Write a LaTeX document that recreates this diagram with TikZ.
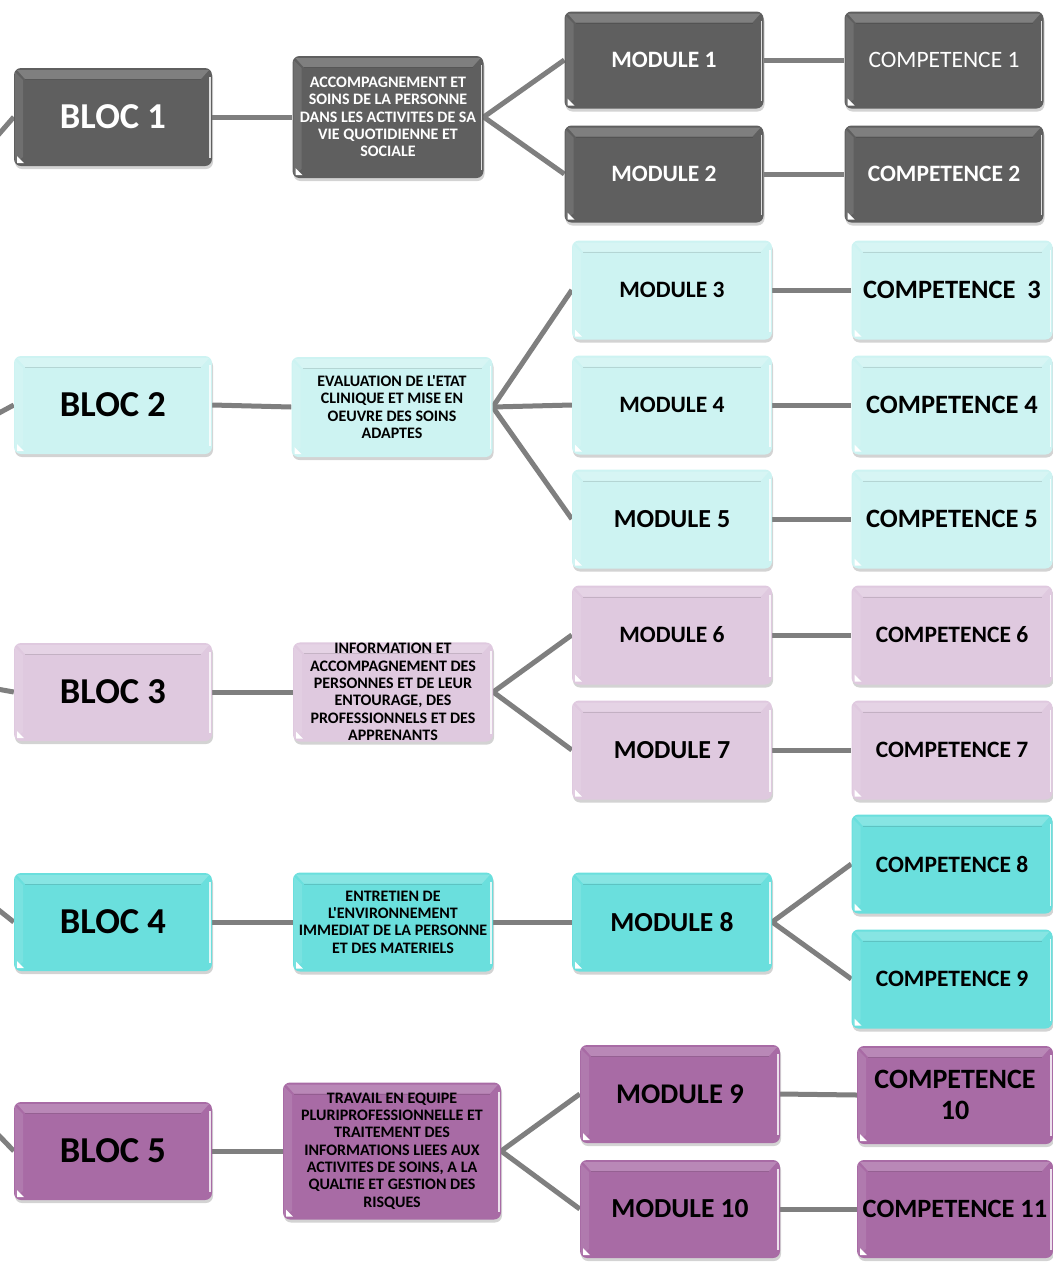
\documentclass[tikz,border=0pt]{standalone}
\usepackage{fontspec}
\setmainfont{Carlito}[Ligatures=TeXOff]
\usetikzlibrary{shadows,backgrounds}
\definecolor{cA}{HTML}{5F5F5F}
\definecolor{cB}{HTML}{CDF3F2}
\definecolor{cC}{HTML}{DFC9DF}
\definecolor{cD}{HTML}{6ADFDD}
\definecolor{cE}{HTML}{A86BA5}
\definecolor{linkc}{HTML}{7F7F7F}
\newcommand{\fs}[1]{\fontsize{#1}{#1}\selectfont}
\tikzset{
  box/.style={rounded corners=7pt, minimum width=198pt, minimum height=98pt,
    inner sep=1pt, align=center, font=\bfseries,
    drop shadow={shadow xshift=1pt, shadow yshift=-3pt, opacity=.35},
    path picture={
      \fill[white,opacity=.2,sharp corners] ([xshift=3pt,yshift=-2pt]path picture bounding box.north west) -- ([xshift=-3pt,yshift=-2pt]path picture bounding box.north east) -- ([xshift=-11pt,yshift=-11pt]path picture bounding box.north east) -- ([xshift=11pt,yshift=-11pt]path picture bounding box.north west) -- cycle;
      \draw[black,opacity=.12,line width=1pt,sharp corners] ([xshift=11pt,yshift=-11.5pt]path picture bounding box.north west) -- ([xshift=-11pt,yshift=-11.5pt]path picture bounding box.north east);
      \fill[white,opacity=.1,sharp corners] ([xshift=1pt,yshift=-4pt]path picture bounding box.north west) -- ([xshift=9pt,yshift=-12pt]path picture bounding box.north west) -- ([xshift=9pt,yshift=9pt]path picture bounding box.south west) -- ([xshift=1pt,yshift=3pt]path picture bounding box.south west) -- cycle;
      \draw[white,opacity=.8,line width=1.6pt,sharp corners] ([xshift=-2pt,yshift=-9pt]path picture bounding box.north east) -- ([xshift=-2pt,yshift=8pt]path picture bounding box.south east);
      \fill[white,sharp corners] ([xshift=3pt,yshift=3pt]path picture bounding box.south west) -- ++(7pt,0) -- ++(-7pt,7pt) -- cycle;
    }},
  bA/.style={box, fill=cA, text=white},
  bB/.style={box, fill=cB, text=black},
  bC/.style={box, fill=cC, text=black},
  bD/.style={box, fill=cD, text=black},
  bE/.style={box, fill=cE, text=black},
  link/.style={draw=linkc, line width=5pt},
  mid/.style={font=\bfseries\fontsize{16}{17.3}\selectfont}
}
\begin{document}
\begin{tikzpicture}[x=1pt,y=-1pt]
\useasboundingbox (0,0) rectangle (1053,1262);
% row 1
\node[bA,font=\bfseries\fs{36.5}] (bl1) at (113,117) {BLOC 1};
\node[bA,mid,minimum width=191pt,minimum height=122pt] (m1) at (388,117) {ACCOMPAGNEMENT ET\\SOINS DE LA PERSONNE\\DANS LES ACTIVITES DE SA\\VIE QUOTIDIENNE ET\\SOCIALE};
\node[bA,font=\bfseries\fs{23.5},minimum width=199pt,minimum height=97pt] (mo1) at (664,60) {MODULE 1};
\node[bA,font=\bfseries\fs{23.5},minimum width=199pt,minimum height=97pt] (mo2) at (664,174) {MODULE 2};
\node[bA,font=\mdseries\fs{23.5},minimum width=199pt,minimum height=97pt] (co1) at (944,60) {COMPETENCE 1};
\node[bA,font=\bfseries\fs{23.5},minimum width=199pt,minimum height=97pt] (co2) at (944,174) {COMPETENCE 2};
% row 2
\node[bB,font=\bfseries\fs{36.5}] (bl2) at (113,405) {BLOC 2};
\node[bB,mid,minimum width=201pt,minimum height=100pt] (m2) at (392,407) {EVALUATION DE L'ETAT\\CLINIQUE ET MISE EN\\OEUVRE DES SOINS\\ADAPTES};
\node[bB,font=\bfseries\fs{23.5},minimum width=200pt,minimum height=99pt] (mo3) at (672,290) {MODULE 3};
\node[bB,font=\bfseries\fs{23.5},minimum width=200pt,minimum height=99pt] (mo4) at (672,405) {MODULE 4};
\node[bB,font=\bfseries\fs{26},minimum width=200pt,minimum height=99pt] (mo5) at (672,519) {MODULE 5};
\node[bB,font=\bfseries\fs{26.5},minimum width=201pt,minimum height=99pt] (co3) at (952,290) {COMPETENCE\ \ 3};
\node[bB,font=\bfseries\fs{26.5},minimum width=201pt,minimum height=99pt] (co4) at (952,405) {COMPETENCE 4};
\node[bB,font=\bfseries\fs{26.5},minimum width=201pt,minimum height=99pt] (co5) at (952,519) {COMPETENCE 5};
% row 3
\node[bC,font=\bfseries\fs{36.5}] (bl3) at (113,692) {BLOC 3};
\node[bC,mid,minimum width=200pt,minimum height=99pt] (m3) at (393,692) {INFORMATION ET\\ACCOMPAGNEMENT DES\\PERSONNES ET DE LEUR\\ENTOURAGE, DES\\PROFESSIONNELS ET DES\\APPRENANTS};
\node[bC,font=\bfseries\fs{23.5},minimum width=200pt,minimum height=99pt] (mo6) at (672,635) {MODULE 6};
\node[bC,font=\bfseries\fs{26},minimum width=200pt,minimum height=99pt] (mo7) at (672,750) {MODULE 7};
\node[bC,font=\bfseries\fs{23.5},minimum width=201pt,minimum height=99pt] (co6) at (952,635) {COMPETENCE 6};
\node[bC,font=\bfseries\fs{23.5},minimum width=201pt,minimum height=99pt] (co7) at (952,750) {COMPETENCE 7};
% row 4
\node[bD,font=\bfseries\fs{36.5}] (bl4) at (113,922) {BLOC 4};
\node[bD,mid,minimum width=200pt,minimum height=99pt] (m4) at (393,922) {ENTRETIEN DE\\L'ENVIRONNEMENT\\IMMEDIAT DE LA PERSONNE\\ET DES MATERIELS};
\node[bD,font=\bfseries\fs{27.5},minimum width=200pt,minimum height=99pt] (mo8) at (672,922) {MODULE 8};
\node[bD,font=\bfseries\fs{23.5},minimum width=201pt,minimum height=99pt] (co8) at (952,864) {COMPETENCE 8};
\node[bD,font=\bfseries\fs{23.5},minimum width=201pt,minimum height=99pt] (co9) at (952,979) {COMPETENCE 9};
% row 5
\node[bE,font=\bfseries\fs{36.5}] (bl5) at (113,1151) {BLOC 5};
\node[bE,mid,minimum width=218pt,minimum height=137pt] (m5) at (392,1151) {TRAVAIL EN EQUIPE\\PLURIPROFESSIONNELLE ET\\TRAITEMENT DES\\INFORMATIONS LIEES AUX\\ACTIVITES DE SOINS, A LA\\QUALTIE ET GESTION DES\\RISQUES};
\node[bE,font=\bfseries\fs{28.5},minimum width=200pt,minimum height=98pt] (mo9) at (680,1094) {MODULE 9};
\node[bE,font=\bfseries\fs{27.5},minimum width=200pt,minimum height=98pt] (mo10) at (680,1209) {MODULE 10};
\node[bE,font=\bfseries\fontsize{28}{31}\selectfont,minimum width=196pt,minimum height=98pt] (co10) at (955,1095) {COMPETENCE\\10};
\node[bE,font=\bfseries\fs{26.4},minimum width=196pt,minimum height=98pt] (co11) at (955,1209) {COMPETENCE 11};
% free ends
\coordinate (p1) at (-14,149);
\coordinate (p2) at (-14,420);
\coordinate (p3) at (-14,687);
\coordinate (p4) at (-14,900);
\coordinate (p5) at (-14,1122);
\begin{pgfonlayer}{background}
\draw[link] (bl1.west) -- (p1);
\draw[link] (bl2.west) -- (p2);
\draw[link] (bl3.west) -- (p3);
\draw[link] (bl4.west) -- (p4);
\draw[link] (bl5.west) -- (p5);
\draw[link] (bl1.east) -- (m1.west);
\draw[link] (bl2.east) -- (m2.west);
\draw[link] (bl3.east) -- (m3.west);
\draw[link] (bl4.east) -- (m4.west);
\draw[link] (bl5.east) -- (m5.west);
\draw[link] (m1.east) -- (mo1.west);
\draw[link] (m1.east) -- (mo2.west);
\draw[link] (m2.east) -- (mo3.west);
\draw[link] (m2.east) -- (mo4.west);
\draw[link] (m2.east) -- (mo5.west);
\draw[link] (m3.east) -- (mo6.west);
\draw[link] (m3.east) -- (mo7.west);
\draw[link] (m4.east) -- (mo8.west);
\draw[link] (m5.east) -- (mo9.west);
\draw[link] (m5.east) -- (mo10.west);
\draw[link] (mo1.east) -- (co1.west);
\draw[link] (mo2.east) -- (co2.west);
\draw[link] (mo3.east) -- (co3.west);
\draw[link] (mo4.east) -- (co4.west);
\draw[link] (mo5.east) -- (co5.west);
\draw[link] (mo6.east) -- (co6.west);
\draw[link] (mo7.east) -- (co7.west);
\draw[link] (mo8.east) -- (co8.west);
\draw[link] (mo8.east) -- (co9.west);
\draw[link] (mo9.east) -- (co10.west);
\draw[link] (mo10.east) -- (co11.west);
\end{pgfonlayer}
\end{tikzpicture}
\end{document}
